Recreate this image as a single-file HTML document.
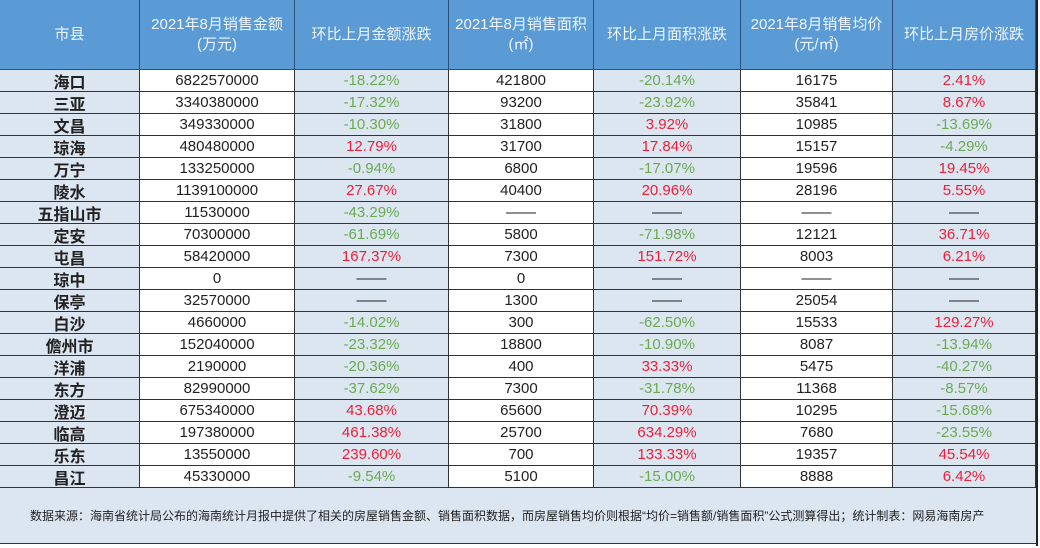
<!DOCTYPE html>
<html><head><meta charset="utf-8">
<style>
body{margin:0;width:1040px;height:548px;background:#fff;overflow:hidden;font-family:"Liberation Sans","Noto Sans CJK SC",sans-serif;}
#wrap{position:absolute;left:0;top:0;width:1036px;height:546px;border-right:2px solid #222;}
.c{position:absolute;box-sizing:border-box;display:flex;align-items:center;justify-content:center;text-align:center;border-right:1px solid #333;border-bottom:1px solid #333;font-size:15px;color:#222;}
.h{background:#5b9bd5;color:#eef4fb;font-size:15px;line-height:20px;border-color:#2a4f7a;}
.l{background:#dce6f1;}
.w{background:#fff;}
.n{font-weight:bold;font-size:16px;}
.g{color:#6aab52;}
.r{color:#e8203a;}
#foot{position:absolute;left:0;top:488px;width:1036px;height:56px;background:#dce6f1;border-bottom:1px solid #333;font-size:12px;color:#222;padding-left:30px;box-sizing:border-box;line-height:56px;}
</style></head><body>
<div id="wrap"></div>
<div id="foot">数据来源：海南省统计局公布的海南统计月报中提供了相关的房屋销售金额、销售面积数据，而房屋销售均价则根据“均价=销售额/销售面积”公式测算得出；统计制表：网易海南房产</div>
<script>
const xs=[0,140,295,449,594,741,893,1036];
const headers=["市县","2021年8月销售金额<br>(万元)","环比上月金额涨跌","2021年8月销售面积<br>(㎡)","环比上月面积涨跌","2021年8月销售均价<br>(元/㎡)","环比上月房价涨跌"];
const names=["海口","三亚","文昌","琼海","万宁","陵水","五指山市","定安","屯昌","琼中","保亭","白沙","儋州市","洋浦","东方","澄迈","临高","乐东","昌江"];
const amount=["6822570000","3340380000","349330000","480480000","133250000","1139100000","11530000","70300000","58420000","0","32570000","4660000","152040000","2190000","82990000","675340000","197380000","13550000","45330000"];
const amountChg=["-18.22%","-17.32%","-10.30%","12.79%","-0.94%","27.67%","-43.29%","-61.69%","167.37%","——","——","-14.02%","-23.32%","-20.36%","-37.62%","43.68%","461.38%","239.60%","-9.54%"];
const area=["421800","93200","31800","31700","6800","40400","——","5800","7300","0","1300","300","18800","400","7300","65600","25700","700","5100"];
const areaChg=["-20.14%","-23.92%","3.92%","17.84%","-17.07%","20.96%","——","-71.98%","151.72%","——","——","-62.50%","-10.90%","33.33%","-31.78%","70.39%","634.29%","133.33%","-15.00%"];
const price=["16175","35841","10985","15157","19596","28196","——","12121","8003","——","25054","15533","8087","5475","11368","10295","7680","19357","8888"];
const priceChg=["2.41%","8.67%","-13.69%","-4.29%","19.45%","5.55%","——","36.71%","6.21%","——","——","129.27%","-13.94%","-40.27%","-8.57%","-15.68%","-23.55%","45.54%","6.42%"];
const wrap=document.getElementById('wrap');
const HH=70,RH=22;
function cell(col,y,h,html,cls){
  const d=document.createElement('div');
  d.className='c '+cls;
  d.style.left=xs[col]+'px';d.style.top=y+'px';
  d.style.width=(xs[col+1]-xs[col])+'px';d.style.height=h+'px';
  d.innerHTML=html;wrap.appendChild(d);return d;
}
headers.forEach((t,i)=>{
  const d=cell(i,0,HH,t,'h');
  
  
});
function pc(v){return v.startsWith('-')?'g':(v.startsWith('—')?'':'r');}
names.forEach((n,r)=>{
  const y=HH+r*RH;
  const vals=[n,amount[r],amountChg[r],area[r],areaChg[r],price[r],priceChg[r]];
  vals.forEach((v,i)=>{
    let cls=(i==0||i%2==0)?'l':'w';
    if(i==0)cls+=' n';
    if(i==2||i==4||i==6)cls+=' '+pc(v);
    const d=cell(i,y,RH,v,cls);
    
    
  });
});
</script>
</body></html>
